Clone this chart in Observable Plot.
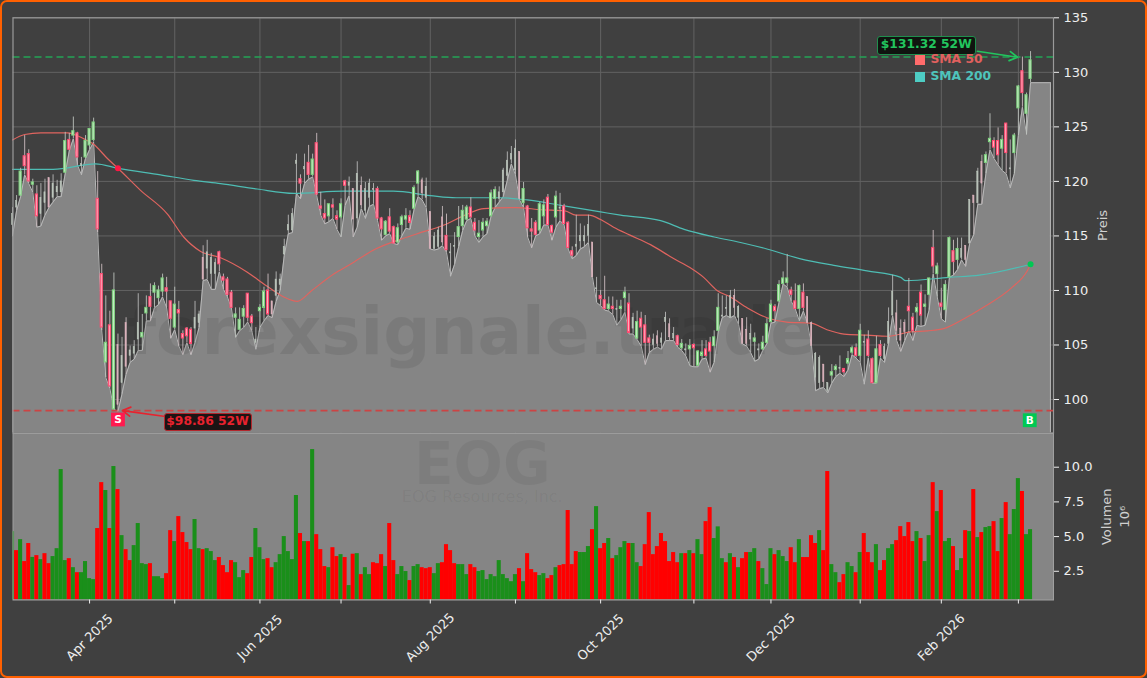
<!DOCTYPE html>
<html><head><meta charset="utf-8">
<script src="https://cdn.jsdelivr.net/npm/d3@7"></script>
<script src="https://cdn.jsdelivr.net/npm/@observablehq/plot@0.6"></script>
<style>
html,body{margin:0;padding:0;background:#404040;}
#wrap{position:relative;width:1147px;height:678px;box-sizing:border-box;background:#404040;overflow:hidden;}
#wrap svg{position:absolute;left:0;display:block;background:transparent;overflow:visible;}
#border{position:absolute;inset:0;border:2px solid #ff6000;border-radius:7px;box-sizing:border-box;pointer-events:none;}
.tag{position:absolute;font:bold 12.3px "DejaVu Sans",sans-serif;white-space:nowrap;box-sizing:border-box;border-radius:2px;text-align:center;}
.leg{position:absolute;font:bold 12.3px "DejaVu Sans",sans-serif;white-space:nowrap;}
.sw{position:absolute;width:9.5px;height:10px;}
</style></head><body>
<div id="wrap"></div>
<script>
// ---- prices, one entry per trading day (index 0..251)
const highs=[117.6,118.7,121.2,124.2,122.9,120.2,119.6,119.8,120.2,120.3,
120.6,120.1,120.7,124.5,124.4,125.9,124.5,122.2,124.2,124.8,
125.8,120.9,112.4,109.5,108.1,111.6,106,105.7,107.5,104.9,
105.4,109.7,107.8,109.5,110.6,110.7,110.4,111.5,111.2,109,
110.3,109,106.3,106.6,106.6,109,108.1,114.1,114.6,113.4,
112.9,113.6,111.5,111.2,110,108.4,108.4,108.6,109.7,107.8,
106.6,108.7,110.3,111.5,109,111.7,111.5,114.7,116.9,117.5,
122.5,120.6,122.5,123.3,122.5,124.4,119,118.3,117.9,118.4,
117.3,118.4,120.1,120.4,119.3,121.8,120.4,119.9,120.2,119.8,
119.5,116.7,116.4,117.5,115.9,116.1,116.9,117.5,117.3,119.6,
121,120.3,120.3,117.2,115.3,115.8,117.7,117,114.3,115.3,
117.7,117.8,117.8,118.5,116.6,116.4,116.6,116.6,119.2,119.5,
119.5,121.2,122.7,123.2,123.8,122.7,119.9,117.8,116.6,116.4,
118.1,118.3,118.8,116,119.1,118.9,117.9,116.3,114,116.9,
116.1,115.9,116.9,114.4,111.2,110,111.3,109.4,109.4,109.1,
109.1,110.3,109.7,107.9,108.1,108,107.7,105.9,106,106.3,
106.1,108,107.4,106.6,105.9,105.5,105.1,105.5,105.1,104.5,
105.4,105.4,105.7,106.3,109.7,109.5,109.5,110,110.1,108.6,
107.4,107.5,106.9,106.1,105.1,105.8,107.4,109.1,108.7,110.9,
111.7,113.3,110.3,110.6,110.5,110.6,109.4,107.1,104.3,104,
103.2,101.5,103.2,103.2,104,102.8,104.4,104.9,105.1,106.9,
105.9,106.3,103.8,105.8,105.4,105.1,108.4,111.4,109.1,107.3,
107.3,111.1,107.9,108.8,110.5,109.6,111.1,115.5,112.5,110.2,
110.9,114.9,114.6,114.8,114.8,114.1,118.3,118.7,121.2,122.4,
122.7,126.2,124,124.9,124.2,125.3,123.8,124.4,128.8,131.4,
128.1,131.9];
const bodyTop=[117,118.2,120.9,122.3,122.5,119.9,118.8,118.5,119,120.3,
119.8,119.5,120,123.7,123.8,124.6,124.4,121.6,123.7,124.8,
125.4,118.4,111.5,105.2,106.8,110,105,104,107,104.5,
104.8,107,106.1,108.4,109.4,110.4,110,111.1,110.2,109,
108.7,108.2,106,106.5,106.4,107.5,107.8,113,113.5,113,
112.5,113.5,111.2,111,109.8,107.8,107.3,108.3,109.7,107.6,
105.5,108.4,109.9,110,109,111,111,114,116,117,
121.9,120.2,121.3,121.7,122,123.5,117.7,117,117.9,117.8,
116.8,117.9,120,119.9,119.3,120.7,119.6,119.3,119.8,119.3,
119.3,116.6,116.3,116.7,115.8,115.7,116.7,116.8,116.8,119.4,
120.9,120.1,119.5,117.2,114.9,115.5,116.7,115,113.5,114.1,
115.8,117.3,117.6,117.6,116.2,115.2,116.2,116.3,118.9,119.2,
119,121,121.9,122.5,123,122.7,119.3,117.7,115.6,116.2,
117.9,117.8,118.5,115.9,118.6,117.6,117.7,116.2,113.6,114.2,
115,115,116,114.4,110.2,109.5,109.1,108.7,108.5,108.3,
108.5,109.8,108.8,107.5,107.1,107.4,106.8,105.6,105.5,105.8,
105.6,107.5,106.9,106,105.8,105.1,104.6,104.9,105,104.4,
104.3,104.6,105.2,105.7,108.4,107.7,108.4,109.5,109.5,108.5,
107.4,106.4,106,105.6,104.6,105.2,106.9,108.7,108.5,110.5,
111.1,111.1,110,109,110.4,109.8,109.4,107,104.2,103.8,
103.2,101.5,102.5,103,102.9,102.8,103.7,104.7,104.7,106.3,
105.3,105.5,103.7,104.6,105,104.8,107.1,109.9,107.9,106.5,
107,108.5,107.5,108.4,109.8,108.7,111.1,113.9,112.2,108.8,
110.5,114.8,113.6,113.8,113.8,114.1,118.3,118.7,120.9,121.8,
122.4,123.9,123.7,123.7,123.8,125.3,121.2,124.2,128.7,130.1,
127.9,131.1];
const bodyBottom=[116,117.6,118.7,121.4,120,119.7,116.8,117,118,117.6,
118.5,119,119,120.8,122.9,124.2,122.2,121.4,122.2,123.3,
123.8,115.6,106.6,103.4,101.2,99.1,99.5,101.5,103,104,
104.2,105.5,105.7,107.9,108.5,109.8,109.3,109.9,109.9,107.4,
106.6,107.9,105.6,105.8,105.1,106.5,107,111,112,111.5,
111.5,112.4,110.9,109.6,108.4,107.5,106.4,107.6,107.5,107,
105.2,108.1,108.4,107.8,107.8,109.5,110.5,113.3,115.5,115.5,
121.6,119.8,121.1,120.6,120.6,118.8,117.5,116.6,116.8,117.6,
116.5,116.7,119.6,119.6,116.5,116.6,117.8,117.3,118.5,119.2,
116.6,115.6,115.1,115.4,114.3,114.4,116,116.5,116.2,117.5,
119.8,118.9,118.5,113.8,113.8,114,114.4,113.7,113.4,114,
114.9,115.9,116.5,116.7,115.5,114.9,115.5,115.9,116.8,118.4,
118.4,119,120.5,122,121,118.4,118,115.7,115.4,115.1,
115.5,116.8,116,115.3,116.7,117.5,116.1,113.9,113.2,114,
114.5,114.5,115,111.2,110.1,109.2,108.3,108.3,108.3,108.2,
108.3,109.3,106.1,106.5,105.6,106.6,105.2,105.2,105,105.1,
105.2,107.1,105.7,105.6,105,104.7,104.5,104.6,104.7,103.1,
104,104,104.4,104.9,106.3,107.6,108.3,107.5,108.4,107.5,
105.1,105.1,105.5,105.3,104.5,104.6,105.2,107.1,108.1,109,
110.6,110.7,109.6,108.3,108.3,108.4,107,104.9,102,101.5,
101.6,100.8,102.2,102.7,102.8,102.5,103.3,104.3,104,104,
105.2,104,101.5,101.5,104,103.7,105.1,107.7,106.3,105.4,
106.2,108.1,106.3,108,107.7,108.5,109.6,112.2,111.5,108.5,
108.2,111.2,112.6,112.8,113,112.8,114.3,118,118,119.8,
121.7,123.6,123.1,122.4,123,122.6,121.1,122.6,126.7,128.1,
126.2,129.4];
const lows=[115,117.3,118.6,120.6,119.8,119,115.8,115.9,116.9,117.6,
118.1,118.6,118.6,120.7,122.8,123.9,121.5,120.6,122.1,122.9,
123.6,115.3,106.3,102,101,99.1,98.9,100.5,102.3,103.4,
103.7,104.5,104.5,107.2,107.2,108.4,108.7,109.4,108.4,105.6,
106.4,104.9,104.1,105.2,104.1,105.2,106.6,110.9,111,110.1,
110.1,111.7,110.1,109.4,108.3,105.7,106.3,106.6,107.1,106.3,
104.6,106.6,107.2,107.7,107.5,109,110,113.2,115.2,115.3,
118.9,118.4,119.8,120.2,120.4,118.7,116.9,116.1,116.3,116.6,
115.6,114.9,117.8,118.7,114.9,115.8,117.5,116.6,117.7,117.9,
116.4,114.6,115,115.2,114.3,114.2,115,115.7,115.6,117.4,
118.6,118.3,117.6,113.8,113.7,113.8,114.1,113.5,111.3,112.4,
114,115.5,116.4,116.6,115,114.4,114.9,115.2,116.8,117.6,
118.1,118.6,120.1,121.6,120.6,118.3,117.6,114.9,113.9,115,
115.2,116,116,114.6,115.8,116.4,116,113.8,112.9,113.2,
113.8,114,114.4,111.2,108.9,108.6,108.2,108.1,107.8,106.8,
107.3,108,106,106,105.5,104.9,103.2,104.3,104.6,104.8,
104.6,105.4,105.4,105.4,104.8,104.5,104,103.1,103,103,
103.7,103.8,102.5,103.4,106.2,107.5,107.7,107.5,107.7,106.9,
105.1,104.9,104.3,103.5,103.7,104.5,105.1,107,107.1,108.9,
110.6,110.3,109,108.3,107.2,108.1,107,104.9,100.8,101,
101.1,100.6,101.5,102.1,102.4,102.1,102.7,104.1,103.8,103.4,
101.4,103.8,101.5,101.5,103.8,103.4,105.1,107.7,105.4,104.4,
105.4,106.3,105.4,106.8,106.7,106.8,108.2,111.5,109.4,107.4,
107.1,111.2,111.4,111.9,112.8,112.2,114.3,115.1,117.9,117.9,
120.7,122.9,122.1,121.5,121,120.7,119.4,120.7,124.2,126.8,
124.3,129.05];
// g up, r down; p / q are the faint up / down candles (ten per chunk)
const candleKind=["ppgrrgrppq","pppgrgrpgg","grrgrgqpqp","ppggrgggrr","grrrrppqpp","prrrrgggrr","pggrqppppp","prprgrrrgr","rgrpqpqppp","rrgrrgggrg",
"gqpqppqrpp","gggrrggggg","pppppqgrrr","ggrrgprrrp","pppqprrgrp","ggrpgrrrpq","ppqprgpgrg","grrggpppqp","qqpgpgggrg","ggrrgrqqpp",
"qpggprggrg","prrgrpppqq","qrrgrggrgr","ggrgpqpqpq","ggrrgrpggr","gg"].join("");
// ---- moving averages as [trading day, price]
const sma50=[[0,123.8],[3,124.3],[7,124.45],[13.5,124.45],[17.6,123.9],[20,123.4],[23.4,122.1],[26,121.2],[31.5,119.2],[38.2,117],[42.2,114.9],[46.3,113.6],[51.3,113],[57.8,111.7],[62.7,110.4],[66.9,109.4],[70.2,109],[73.8,110],[79.2,111.5],[83.3,112.4],[89.5,113.8],[95.7,114.7],[99.8,115.2],[106.4,116],[112.1,117],[116.2,117.5],[124.3,117.6],[130.3,117.4],[136.2,117.3],[138.9,116.9],[142.1,116.9],[145,116.5],[148.2,115.8],[152.1,115.1],[157.3,114.2],[163.1,112.9],[167,112.1],[170.4,111.2],[173.7,110],[177,109.4],[181.2,108.4],[186,107.5],[190.9,107.1],[196.8,107],[200.8,106.4],[205,106],[210.8,105.9],[215.7,105.8],[221.4,106.2],[225.6,106.3],[229.6,106.5],[234.6,107.4],[239.6,108.5],[246.5,110.3],[250.2,111.8],[251,112.4]];
const sma200=[[0,121.1],[10,121.1],[20.5,121.6],[26,121.2],[36.5,120.6],[44.7,120.1],[51.3,119.8],[60.3,119.3],[69.4,118.9],[81.6,119.1],[93.9,119.1],[103,118.7],[109.4,118.5],[120.2,118.5],[126.9,118.3],[135.2,117.8],[145,117.2],[149.9,116.9],[159.8,116.4],[165.6,115.6],[173,114.9],[179.5,114.4],[186,113.8],[194.3,112.9],[202.5,112.3],[210.7,111.8],[219,111.2],[220.2,110.9],[230.9,111.2],[238.4,111.4],[251,112.4]];
// ---- volume in millions
const volumes=[5.36,3.99,4.78,3.2,4.5,3.5,3.63,3.34,3.77,3.05,3.56,4.13,9.83,3.27,3.41,2.76,2.4,2.4,3.2,1.97,
1.9,5.58,8.89,8.32,5.58,10.05,8.39,5.07,4.06,3.27,4.35,5.94,3.05,2.98,3.05,2.11,2.11,1.97,2.33,5.43,
4.64,6.44,5.29,4.57,4.06,6.23,4.13,4.06,4.13,3.92,3.27,3.49,2.91,2.4,3.27,3.12,2.04,2.55,2.33,3.49,
5.58,4.2,3.34,3.41,2.76,3.12,3.7,5,3.92,3.34,7.96,5.22,4.64,4.64,11.27,5.14,4.06,2.84,2.76,4.2,
3.56,3.7,3.49,1.47,3.73,3.77,2.26,2.76,2.26,3.12,3.05,3.7,2.84,5.94,3.27,2.26,2.84,2.48,1.83,2.84,
2.98,2.76,2.69,2.76,2.33,3.05,3.12,4.42,3.99,3.05,2.98,2.98,2.26,2.98,2.76,2.48,2.55,1.9,2.26,2.11,
3.27,2.26,1.97,1.75,2.26,2.69,1.75,3.77,2.62,2.4,2.19,2.33,1.97,2.19,2.76,2.91,2.98,6.88,2.98,3.92,
3.85,3.85,4.28,5.5,7.16,4.13,4.5,4.86,3.41,3.63,4.2,4.64,4.5,4.5,3.12,2.84,4.42,6.73,3.7,4.28,
5.22,4.64,3.2,3.85,3.12,3.77,3.77,3.99,3.77,4.78,3.7,6.08,7.09,4.86,5.7,3.41,3.12,3.77,3.49,2.76,
3.41,3.85,3.85,4.13,3.2,2.69,1.54,4.13,3.7,3.99,3.56,3.2,4.2,3.12,4.78,3.49,3.49,5.07,4.5,5.43,
3.99,9.69,2.98,2.4,1.68,2.26,3.12,2.84,2.4,3.85,5.22,3.85,3.12,4.42,2.55,3.27,4.13,4.42,4.71,5.72,
5,6.01,4.64,5.36,4.86,3.2,5.07,8.89,6.8,8.32,4.64,4.86,4.28,2.55,3.41,5.43,5.36,8.39,4.93,5.29,
5.65,5.72,6.08,3.92,6.3,7.45,5.14,6.95,9.18,8.25,5.14,5.5];
const volumeDir=["grgrrgrgrr","ggggrgrggg","grrgrgrgrr","ggggrgggrr","grrrrggrgg","grrrrgggrr","gggrrggggg","grgrgrrrgr","rgrgrgrggr","rrgrrgggrg",
"grrrggrrrr","gggrrggggg","gggggrgrrr","ggrrgrrrrr","gggrgrrgrg","ggrggrrrrr","rrrrrgrgrg","grrgggrgrg","rrggrgggrg","ggrrgrrrrg",
"rrggrrggrg","rrrgrrggrr","rrrgrggrgr","ggrggrgrgr","ggrrgrgggr","gg"].join("");
// ---- axes
const monthStarts=[19,40,61,81,103,124,145,168,187,209,229,248];
const monthLabels=["Apr 2025","","Jun 2025","","Aug 2025","","Oct 2025","","Dec 2025","","Feb 2026",""];
const priceTicks=[100,105,110,115,120,125,130,135];
const volumeTicks=[2.5,5,7.5,10];
// ---- annotations
const highLevel=131.4, lowLevel=98.98;
const arrows=[{x1:237.9,y1:131.93,x2:247.8,y2:131.38,c:"#22c55e"},{x1:37.7,y1:98.44,x2:27.1,y2:98.99,c:"#e8222e"}];
const crossDots=[{x:26,y:121.2,c:"#ff1744"},{x:251,y:112.4,c:"#00c853"}];
const signals=[{x:26,y:98.17,t:"S",c:"#ff1a4f"},{x:250.8,y:98.1,t:"B",c:"#00c853"}];
const xDomain=[0.12,256.66], areaEnd=255.9;
const priceDomain=[96.93,135], volDomain=[0.43,12.43];

const kinds={g:{s:"#7fd27f",f:"#cdeccd",w:"#bcc2bc",sw:1.1,h:.25},r:{s:"#ff4d73",f:"#ffb3c2",w:"#ccbcc0",sw:1.1,h:.25},
 p:{s:"#bcc6bc",f:"#bcc6bc",w:"#b8b8b8",sw:.5,h:.14},q:{s:"#dcb2bc",f:"#dcb2bc",w:"#c2b7b9",sw:.5,h:.14}};
const candles=highs.map((h,i)=>({i,h,t:bodyTop[i],b:bodyBottom[i],l:lows[i],k:kinds[candleKind[i]]}));
const lowPts=[...lows.map((v,i)=>({x:i,y:v})),{x:areaEnd,y:lows[lows.length-1]}];
const vols=volumes.map((v,i)=>({i,v,d:volumeDir[i]}));
const font={fontFamily:"DejaVu Sans",fontSize:"13px",background:"transparent",overflow:"visible"};
const W=1147;

const gridC="#626262", frameC="#9a9a9a", txt="#eeeeee", dim="#d0d0d0";
const price=Plot.plot({width:W,height:433,marginLeft:12.5,marginRight:94,marginTop:17.3,marginBottom:0.5,style:font,
 x:{domain:xDomain,axis:null},y:{domain:priceDomain,axis:null},
 marks:[
  Plot.ruleX(monthStarts,{x:d=>d,stroke:gridC,strokeWidth:1}),
  Plot.ruleY(priceTicks,{y:d=>d,stroke:gridC,strokeWidth:1}),
  Plot.areaY(lowPts,{x:"x",y1:priceDomain[0],y2:"y",fill:"#858585"}),
  Plot.line(lowPts,{x:"x",y:"y",stroke:"#b8b8b8",strokeWidth:1}),
  Plot.ruleX([areaEnd],{y1:priceDomain[0],y2:lows[lows.length-1],stroke:"#b0b0b0",strokeWidth:1.2}),
  Plot.text(["forexsignale.trade"],{frameAnchor:"top",lineAnchor:"middle",dx:-62,dy:314.7,fontSize:66,fontWeight:"bold",fill:"#000",fillOpacity:.08}),
  Plot.ruleY([highLevel],{y:d=>d,stroke:"#23a455",strokeWidth:1.6,strokeDasharray:"7 4"}),
  Plot.ruleY([lowLevel],{y:d=>d,stroke:"#cc4444",strokeWidth:1.6,strokeDasharray:"7 4"}),
  Plot.line(sma200,{x:d=>d[0],y:d=>d[1],stroke:"#4ebdb4",strokeWidth:1.2,curve:"monotone-x"}),
  Plot.line(sma50,{x:d=>d[0],y:d=>d[1],stroke:"#e0645f",strokeWidth:1.2,curve:"monotone-x"}),
  Plot.ruleX(candles,{x:"i",y1:"l",y2:"h",stroke:d=>d.k.w,strokeWidth:.9}),
  Plot.rect(candles,{x1:d=>d.i-d.k.h,x2:d=>d.i+d.k.h,y1:"b",y2:"t",fill:d=>d.k.f,stroke:d=>d.k.s,strokeWidth:d=>d.k.sw}),
  Plot.dot(crossDots,{x:"x",y:"y",r:3,fill:"c",stroke:"none"}),
  Plot.arrow(arrows,{x1:"x1",y1:"y1",x2:"x2",y2:"y2",stroke:"c",strokeWidth:1.7,headLength:8,bend:0}),
  Plot.dot(signals,{x:"x",y:"y",symbol:"square",r:7.8,fill:"c",stroke:"none"}),
  Plot.text(signals,{x:"x",y:"y",text:"t",fill:"#fff",fontWeight:"bold",fontSize:10.5}),
  Plot.frame({stroke:frameC,strokeWidth:1.2}),
  Plot.axisY({anchor:"right",ticks:priceTicks,tickSize:5,tickPadding:5,color:txt,label:null,fontSize:13}),
  Plot.text(["Preis"],{frameAnchor:"right",textAnchor:"middle",dx:49,rotate:-90,fill:dim,fontSize:13})
 ]});
const volume=Plot.plot({width:W,height:245,marginLeft:12.5,marginRight:94,marginTop:0,marginBottom:78.5,style:font,
 x:{domain:xDomain,axis:null},y:{domain:volDomain,axis:null},
 marks:[
  Plot.frame({fill:"#858585",stroke:"none"}),
  Plot.text(["EOG"],{frameAnchor:"top",lineAnchor:"middle",dx:-51,dy:32,fontSize:58,fontWeight:"bold",fill:"#000",fillOpacity:.06}),
  Plot.text(["EOG Resources, Inc."],{frameAnchor:"top",lineAnchor:"middle",dx:-51,dy:63,fontSize:16,fill:"#000",fillOpacity:.05}),
  Plot.rectY(vols,{x1:d=>d.i-.5,x2:d=>d.i+.5,y1:volDomain[0],y2:"v",fill:d=>d.d==="g"?"#1a8f1a":"#ff0000",clip:"frame"}),
  Plot.frame({stroke:"#a0a0a0",strokeWidth:1}),
  Plot.axisY({anchor:"right",ticks:volumeTicks,tickFormat:d3.format(".1f"),tickSize:5,tickPadding:5,color:txt,label:null,fontSize:13}),
  Plot.axisX({anchor:"bottom",ticks:monthStarts,tickFormat:()=>"",tickSize:4,color:txt,label:null}),
  Plot.text(monthStarts.map((x,i)=>({x,t:monthLabels[i]})),{x:"x",text:"t",frameAnchor:"bottom",lineAnchor:"middle",rotate:-45,dy:37.5,fill:txt,fontSize:13}),
  Plot.text(["Volumen"],{frameAnchor:"right",textAnchor:"middle",dx:53,rotate:-90,fill:dim,fontSize:13}),
  Plot.text(["10⁶"],{frameAnchor:"right",textAnchor:"middle",dx:71,rotate:-90,fill:dim,fontSize:13})
 ]});
const wrap=document.getElementById("wrap");
volume.style.top="433px"; price.style.top="0px";
wrap.append(volume,price);
function add(cls,css,text){const d=document.createElement("div");d.className=cls;d.style.cssText=css;if(text)d.textContent=text;wrap.append(d);}
add("tag","left:877px;top:36px;width:98.5px;height:18.5px;line-height:15.5px;color:#22c55e;background:#101410;border:1.5px solid #1f8f4d;border-radius:3px;","$131.32 52W");
add("tag","left:163.5px;top:413.3px;width:88px;height:17.5px;line-height:15px;color:#e8222e;background:#1c1414;border:1.5px solid #b3262c;border-radius:3px;","$98.86 52W");
add("sw","left:915px;top:55px;background:#ff6b6b;");
add("sw","left:915px;top:72px;background:#4ecdc4;");
add("leg","left:930.5px;top:52px;color:#e0605e;","SMA 50");
add("leg","left:930.5px;top:69px;color:#4ec4bc;","SMA 200");
const b=document.createElement("div");b.id="border";wrap.append(b);
</script></body></html>
